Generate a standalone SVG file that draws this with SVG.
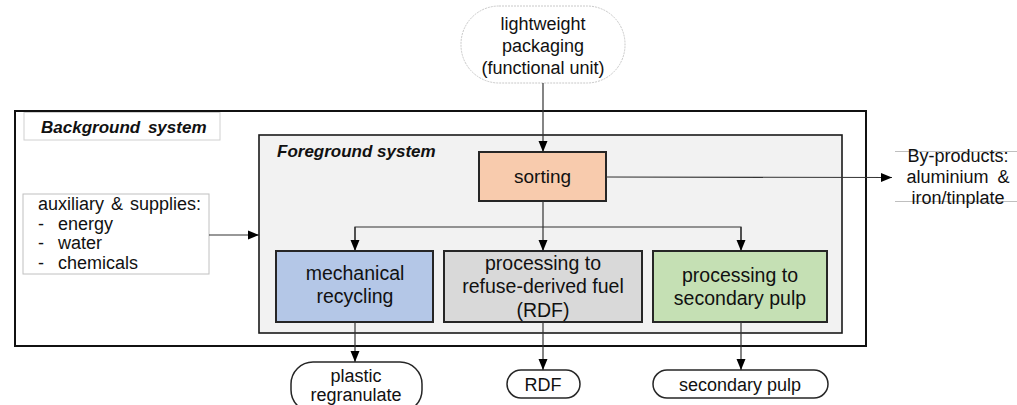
<svg xmlns="http://www.w3.org/2000/svg" width="1017" height="405" viewBox="0 0 1017 405">
<style>
text{font-family:"Liberation Sans",Arial,sans-serif;fill:#111;}
.t{font-size:18px;text-anchor:middle;}
.tb{font-size:19.5px;text-anchor:middle;}
.aux{font-size:18px;}
.lbl{font-size:17px;font-weight:bold;font-style:italic;}
.proc{stroke:#262626;stroke-width:2;}
.out{fill:#fff;stroke:#262626;stroke-width:1.5;}
.con{fill:none;stroke:#333;stroke-width:1.2;}
</style>
<defs>
<marker id="ah" markerUnits="userSpaceOnUse" markerWidth="12" markerHeight="12" viewBox="0 0 12 12" refX="11" refY="6" orient="auto">
<path d="M0,1.5 L11,6 L0,10.5 Z" fill="#000"/>
</marker>
</defs>
<rect width="1017" height="405" fill="#fff"/>
<g id="background-system">
<rect x="15" y="111" width="851" height="235" fill="#fff" stroke="#111" stroke-width="2"/>
<rect x="24" y="112.5" width="196" height="27.5" fill="#fff" stroke="#d0d0d0" stroke-width="1"/>
<text class="lbl" x="41" y="133" style="word-spacing:3px">Background system</text>
</g>
<g id="foreground-system">
<rect x="259" y="135" width="583" height="198" fill="#f2f2f2" stroke="#1a1a1a" stroke-width="1.6"/>
<text class="lbl" x="277" y="157">Foreground system</text>
</g>
<g id="functional-unit">
<rect x="461" y="6" width="164" height="77" rx="38" ry="38" fill="#fff" stroke="#c8c8c8" stroke-width="1" stroke-dasharray="2 1"/>
<text class="t" x="543" y="30">lightweight</text>
<text class="t" x="543" y="52">packaging</text>
<text class="t" x="543" y="74">(functional unit)</text>
</g>
<g id="auxiliary">
<rect x="23" y="194" width="186" height="80" fill="#fff" stroke="#c0c0c0" stroke-width="1"/>
<text class="aux" x="38" y="210" style="word-spacing:2px">auxiliary &amp; supplies:</text>
<text class="aux" x="38" y="230">-</text><text class="aux" x="58" y="230">energy</text>
<text class="aux" x="38" y="249">-</text><text class="aux" x="58" y="249">water</text>
<text class="aux" x="38" y="269">-</text><text class="aux" x="58" y="269">chemicals</text>
</g>
<g id="by-products">
<line x1="895" y1="151.5" x2="1017" y2="151.5" stroke="#bfbfbf" stroke-width="1"/>
<line x1="895" y1="201.5" x2="1017" y2="201.5" stroke="#bfbfbf" stroke-width="1"/>
<text class="t" x="958" y="162">By-products:</text>
<text class="t" x="958" y="183" style="word-spacing:4px">aluminium &amp;</text>
<text class="t" x="958" y="204">iron/tinplate</text>
</g>
<g id="sorting">
<rect class="proc" x="479" y="152" width="127" height="49" fill="#f8cbad"/>
<text class="t" x="542.5" y="183" style="font-size:19px">sorting</text>
</g>
<g id="mechanical-recycling">
<rect class="proc" x="276" y="251" width="157" height="71" fill="#b4c7e7"/>
<text class="tb" x="355" y="280">mechanical</text>
<text class="tb" x="355" y="303">recycling</text>
</g>
<g id="rdf-processing">
<rect class="proc" x="444" y="251" width="198" height="71" fill="#d9d9d9"/>
<text class="tb" x="543" y="270">processing to</text>
<text class="tb" x="543" y="293">refuse-derived fuel</text>
<text class="tb" x="543" y="317">(RDF)</text>
</g>
<g id="pulp-processing">
<rect class="proc" x="653" y="251" width="174" height="71" fill="#c5e0b4"/>
<text class="tb" x="740" y="282">processing to</text>
<text class="tb" x="740" y="305">secondary pulp</text>
</g>
<g id="plastic-regranulate">
<rect class="out" x="291" y="362" width="131" height="50" rx="22" ry="22"/>
<text class="t" x="356" y="382">plastic</text>
<text class="t" x="356" y="401">regranulate</text>
</g>
<g id="rdf-output">
<rect class="out" x="507" y="370" width="73" height="28" rx="14" ry="14"/>
<text class="t" x="543" y="391">RDF</text>
</g>
<g id="secondary-pulp">
<rect class="out" x="653" y="370" width="175" height="28" rx="14" ry="14"/>
<text class="t" x="740" y="391">secondary pulp</text>
</g>
<g id="connectors">
<line class="con" x1="543" y1="83" x2="543" y2="152" marker-end="url(#ah)"/>
<line class="con" x1="209" y1="235" x2="259" y2="235" marker-end="url(#ah)"/>
<line class="con" x1="606" y1="177" x2="892" y2="177.5" marker-end="url(#ah)"/>
<line class="con" x1="543" y1="201" x2="543" y2="251" marker-end="url(#ah)"/>
<polyline class="con" points="355,240 355,227 741,227 741,240"/>
<line class="con" x1="355" y1="227" x2="355" y2="251" marker-end="url(#ah)"/>
<line class="con" x1="741" y1="227" x2="741" y2="251" marker-end="url(#ah)"/>
<line class="con" x1="355" y1="322" x2="355" y2="362" marker-end="url(#ah)"/>
<line class="con" x1="543" y1="322" x2="543" y2="370" marker-end="url(#ah)"/>
<line class="con" x1="741" y1="322" x2="741" y2="370" marker-end="url(#ah)"/>
</g>
</svg>
